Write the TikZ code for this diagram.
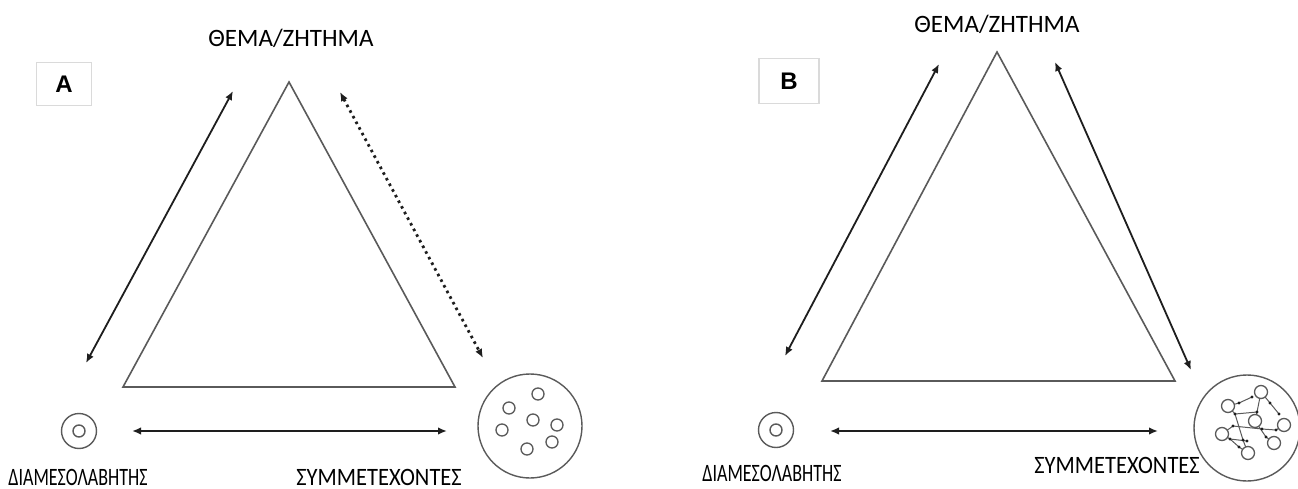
\documentclass[tikz,border=0pt]{standalone}
\usepackage{fontspec}
\setmainfont{Carlito}
\newfontfamily\labelfont{Liberation Sans}
\newfontfamily\narrowcap[FakeStretch=0.72]{Carlito}
\newfontfamily\partfont[FakeStretch=0.9]{Carlito}
\usetikzlibrary{arrows.meta}
\definecolor{edgegray}{HTML}{5A5A5A}
\definecolor{arrowdark}{HTML}{1E1E1E}
\definecolor{boxgray}{HTML}{DADADA}
\tikzset{
  x=1pt, y=-1pt,
  tri/.style={draw=edgegray, line width=1.6pt, line join=miter},
  link/.style={draw=arrowdark, line width=1.8pt, {Latex[length=9pt,width=7.5pt]}-{Latex[length=9pt,width=7.5pt]}},
  dotlink/.style={link, line width=2.8pt, dash pattern=on 2.6pt off 3.8pt},
  topiccap/.style={font=\fontsize{25}{28}\selectfont, text=black, inner sep=0pt},
  partcap/.style={font=\partfont\fontsize{25}{28}\selectfont, text=black, inner sep=0pt},
  medcap/.style={font=\narrowcap\fontsize{25}{28}\selectfont, text=black, inner sep=0pt},
  panelbox/.style={draw=boxgray, line width=1.4pt, minimum width=55pt, minimum height=43pt, font=\labelfont\bfseries\fontsize{24}{26}\selectfont},
  ring/.style={circle, draw=edgegray, line width=1.4pt, inner sep=0pt},
  member/.style={circle, draw=edgegray, line width=1.3pt, minimum size=12pt, inner sep=0pt},
  netnode/.style={circle, draw=edgegray, line width=1.3pt, minimum size=13pt, inner sep=0pt, fill=white},
  dot/.style={circle, fill=arrowdark, minimum size=3.4pt, inner sep=0pt},
  wire/.style={draw=edgegray, line width=1pt}
}
\begin{document}
\begin{tikzpicture}
\useasboundingbox[fill=white] (0,0) rectangle (1298,489);

% ---------------- Panel A ----------------
\node[panelbox] (boxA) at (64,84) {A};
\node[topiccap] (topicA) at (291,38) {ΘΕΜΑ/ΖΗΤΗΜΑ};
\node[medcap] (medA) at (78,477) {ΔΙΑΜΕΣΟΛΑΒΗΤΗΣ};
\node[partcap, anchor=east] (partA) at (462,477) {ΣΥΜΜΕΤΕΧΟΝΤΕΣ};

\coordinate (apexA) at (289,82);
\coordinate (leftA) at (123,387);
\coordinate (rightA) at (455,387);
\draw[tri] (apexA) -- (leftA) -- (rightA) -- cycle;

\coordinate (la1) at (233,91);
\coordinate (la2) at (86,363);
\draw[link] (la1) -- (la2);
\coordinate (ra1) at (340,92);
\coordinate (ra2) at (483,358);
\draw[dotlink] (ra1) -- (ra2);
\coordinate (ba1) at (132,431);
\coordinate (ba2) at (447,431);
\draw[link] (ba1) -- (ba2);

% mediator: concentric rings
\node[ring, minimum size=35pt] (medRingA) at (79,431) {};
\node[ring, minimum size=12pt] (medCoreA) at (79,431) {};

% participants: separate members in a group
\node[ring, minimum size=104pt] (groupA) at (530,426) {};
\node[member] (mA1) at (538,394) {};
\node[member] (mA2) at (509,408) {};
\node[member] (mA3) at (533,420) {};
\node[member] (mA4) at (557,425) {};
\node[member] (mA5) at (502,430) {};
\node[member] (mA6) at (552,442) {};
\node[member] (mA7) at (527,449) {};

% ---------------- Panel B ----------------
\node[panelbox, minimum width=60pt, minimum height=45pt] (boxB) at (789,81) {B};
\node[topiccap] (topicB) at (997,24) {ΘΕΜΑ/ΖΗΤΗΜΑ};
\node[medcap] (medB) at (772,473) {ΔΙΑΜΕΣΟΛΑΒΗΤΗΣ};
\node[partcap, anchor=east] (partB) at (1200,465) {ΣΥΜΜΕΤΕΧΟΝΤΕΣ};

\coordinate (apexB) at (997,52);
\coordinate (leftB) at (822,381);
\coordinate (rightB) at (1175,381);
\draw[tri] (apexB) -- (leftB) -- (rightB) -- cycle;

\coordinate (lb1) at (939,64);
\coordinate (lb2) at (785,356);
\draw[link] (lb1) -- (lb2);
\coordinate (rb1) at (1055,62);
\coordinate (rb2) at (1191,370);
\draw[link] (rb1) -- (rb2);
\coordinate (bb1) at (830,431);
\coordinate (bb2) at (1158,431);
\draw[link] (bb1) -- (bb2);

\node[ring, minimum size=35pt] (medRingB) at (776,430) {};
\node[ring, minimum size=12pt] (medCoreB) at (776,430) {};

% participants: linked members forming a network
\node[ring, minimum size=106pt] (groupB) at (1247,428) {};
\coordinate (d1) at (1239,403);
\coordinate (d2) at (1252,397);
\coordinate (d3) at (1270,403);
\coordinate (d4) at (1279,414);
\coordinate (d5) at (1257,412);
\coordinate (d6) at (1235,414);
\coordinate (d7) at (1243,440);
\coordinate (d8) at (1233,426);
\coordinate (d9) at (1262,429);
\coordinate (d10) at (1276,430);
\coordinate (d11) at (1230,439);
\coordinate (d12) at (1247,441);
\coordinate (d13) at (1266,437);
\coordinate (d14) at (1239,447);
\draw[wire] (1228,406) -- (d1) -- (d2);
\draw[wire] (1261,392) -- (d3) -- (d4);
\draw[wire] (1261,392) -- (d5) -- (1255,421);
\draw[wire] (1228,406) -- (d6) -- (d7) -- (1248,453);
\draw[wire] (d6) -- (d5);
\draw[wire] (1222,434) -- (d8) -- (d9) -- (d10) -- (1284,425);
\draw[wire] (1222,434) -- (d11) -- (d12);
\draw[wire] (1255,421) -- (d13) -- (1274,443);
\draw[wire] (d11) -- (d14) -- (1248,453);
\foreach \d in {d1,d2,d3,d4,d5,d6,d7,d8,d9,d10,d11,d12,d13,d14}
  \node[dot] at (\d) {};
% members drawn on top of the wires
\node[netnode] (nB1) at (1261,392) {};
\node[netnode] (nB2) at (1228,406) {};
\node[netnode] (nB3) at (1255,421) {};
\node[netnode] (nB4) at (1284,425) {};
\node[netnode] (nB5) at (1222,434) {};
\node[netnode] (nB6) at (1274,443) {};
\node[netnode] (nB7) at (1248,453) {};
\end{tikzpicture}
\end{document}
